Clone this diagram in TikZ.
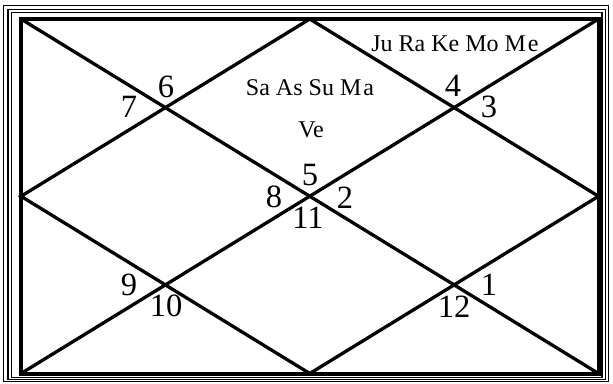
\documentclass[tikz,border=0pt]{standalone}
\usepackage{fontspec}
\setmainfont{Liberation Serif}
\usetikzlibrary{calc}

\begin{document}
\begin{tikzpicture}[x=1pt,y=-1pt,
  casa/.style={font=\fontsize{32.5}{33}\selectfont, inner sep=0pt},
  pianeti/.style={font=\fontsize{24}{24}\selectfont, inner sep=0pt},
  linea/.style={line width=3.3pt}]
  \useasboundingbox (0,0) rectangle (613,383);

  % cornici
  \draw[line width=1.3pt] (3.3,5.7) rectangle (608.5,381.8);
  \draw[line width=1.3pt] (8,9.3) rectangle (605.2,379.6);
  \draw[line width=1.3pt] (11.7,12.7) rectangle (602,377.3);
  \draw[line width=4pt] (21,19) rectangle (598.5,373.5);

  % angoli e punti medi
  \coordinate (nw) at (21,19);
  \coordinate (ne) at (598.5,19);
  \coordinate (se) at (598.5,373.5);
  \coordinate (sw) at (21,373.5);
  \coordinate (n) at ($(nw)!0.5!(ne)$);
  \coordinate (e) at ($(ne)!0.5!(se)$);
  \coordinate (s) at ($(sw)!0.5!(se)$);
  \coordinate (w) at ($(nw)!0.5!(sw)$);

  % diagonali e rombo
  \draw[linea] (nw) -- (se);
  \draw[linea] (ne) -- (sw);
  \draw[linea] (n) -- (e) -- (s) -- (w) -- cycle;

  % numeri delle case
  \node[casa] (c1) at (489,285) {1};
  \node[casa] (c2) at (345,198) {2};
  \node[casa] (c3) at (489,107) {3};
  \node[casa] (c4) at (453,86) {4};
  \node[casa] (c5) at (310,175) {5};
  \node[casa] (c6) at (166,87) {6};
  \node[casa] (c7) at (129,107) {7};
  \node[casa] (c8) at (274,197) {8};
  \node[casa] (c9) at (129,285) {9};
  \node[casa] (c10) at (166,306) {10};
  \node[casa] (c11) at (308,218) {11};
  \node[casa] (c12) at (454,307) {12};

  % pianeti
  \node[pianeti] (p4) at (455,44) {Ju Ra Ke Mo M\kern2pt e};
  \node[pianeti] (p5a) at (310,88) {Sa As Su M\kern2pt a};
  \node[pianeti] (p5b) at (311,130) {Ve};
\end{tikzpicture}
\end{document}
